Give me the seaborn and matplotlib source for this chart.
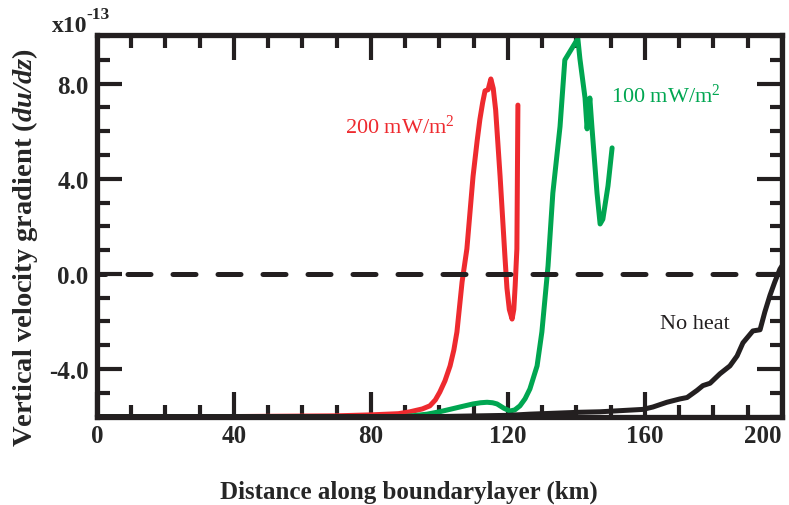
import numpy as np
import pandas as pd
import seaborn as sns
import matplotlib.pyplot as plt
from matplotlib.ticker import MultipleLocator, FixedFormatter, FixedLocator

# distance (km) and du/dz (x1e-13)
x_200 = [0, 40, 70, 80, 88, 91.4, 95, 97.2, 98.8, 100.1, 101.6, 103.1, 104.2, 105.1, 106.6, 108, 109.8,
         111, 111.8, 112.6, 113.3, 114.2, 115, 115.7, 116.4, 117.7, 119.1, 119.7, 120.4, 121.2, 121.7,
         122.1, 122.6, 122.9]
y_200 = [-6.0, -6.0, -5.97, -5.93, -5.88, -5.8, -5.68, -5.55, -5.3, -4.97, -4.5, -3.87, -3.2, -2.44, -0.34,
         1.05, 4.1, 5.6, 6.5, 7.2, 7.7, 7.75, 8.2, 7.8, 6.9, 4.1, 0.76, -0.6, -1.5, -1.9, -1.5, -0.5,
         1.05, 7.1]

x_100 = [0, 90, 96.4, 100, 103, 106.5, 109.8, 112, 113.9, 115.5, 116.8, 118.8, 120.6, 122, 123.5, 125,
         126.4, 128.5, 129.9, 130.8, 131.7, 133.1, 135.2, 136.6, 140.4, 141, 142.5, 143.1, 143.9, 144.5,
         146, 146.9, 147.7, 149.2, 150.4]
y_100 = [-6.0, -6.0, -5.9, -5.8, -5.7, -5.58, -5.47, -5.42, -5.4, -5.42, -5.47, -5.65, -5.77, -5.72, -5.55,
         -5.25, -4.84, -3.87, -2.44, -1.05, 0.34, 3.4, 6.2, 9.0, 9.9, 9.05, 7.4, 6.1, 7.4, 6.2,
         3.4, 2.1, 2.3, 3.7, 5.3]

x_noheat = [0, 100, 120, 126.4, 141, 146.9, 159.4, 162.3, 166.4, 170.2, 172.3, 175.2, 176.9, 179, 181.9,
            184.8, 186.9, 188.6, 191.5, 193.6, 195, 196.5, 197.9, 199.4, 200.5]
y_noheat = [-6.0, -6.0, -5.95, -5.9, -5.82, -5.8, -5.7, -5.6, -5.4, -5.26, -5.2, -4.9, -4.7, -4.6, -4.2,
            -3.87, -3.45, -2.9, -2.4, -2.35, -1.6, -0.9, -0.34, 0.2, 0.45]

red = "#ee2a2f"
green = "#00a651"
black = "#231f20"

sns.set_style("ticks")
plt.rcParams["font.family"] = ["Liberation Serif", "DejaVu Serif"]
plt.rcParams["mathtext.fontset"] = "custom"
plt.rcParams["mathtext.rm"] = "Liberation Serif"
plt.rcParams["mathtext.it"] = "Liberation Serif:italic"
plt.rcParams["mathtext.bf"] = "Liberation Serif:bold"
plt.rcParams["mathtext.bfit"] = "Liberation Serif:bold:italic"

fig = plt.figure(figsize=(7.89, 5.06), dpi=100)
ax = fig.add_axes([0.1229, 0.1739, 0.8682, 0.755])

lw = 3.6
for xs, ys, c in [(x_200, y_200, red), (x_100, y_100, green), (x_noheat, y_noheat, black)]:
    sns.lineplot(x=xs, y=ys, ax=ax, color=c, lw=lw, sort=False, estimator=None,
                 solid_capstyle="round", solid_joinstyle="round")
ax.axhline(0, color=black, lw=3.6, linestyle=(2.9, (4.6, 4.4)), dash_capstyle="round")

ax.set_xlim(0, 200)
ax.set_ylim(-6.02, 10.05)

ax.xaxis.set_major_locator(FixedLocator([0, 40, 80, 120, 160, 200]))
ax.xaxis.set_minor_locator(MultipleLocator(10))
ax.yaxis.set_major_locator(FixedLocator([-4, 0, 4, 8]))
ax.yaxis.set_major_formatter(FixedFormatter(["-4.0", "0.0", "4.0", "8.0"]))
ax.yaxis.set_minor_locator(MultipleLocator(1))

ax.tick_params(which="both", direction="in", top=True, right=True, color=black, width=3)
ax.tick_params(which="major", length=18)
ax.tick_params(which="minor", length=9)
ax.tick_params(axis="x", which="major", pad=5, labelsize=18)
ax.tick_params(axis="y", which="major", pad=6, labelsize=18)
for lab in ax.get_xticklabels() + ax.get_yticklabels():
    lab.set_fontweight("bold")
ax.get_xticklabels()[-1].set_horizontalalignment("right")

for s in ax.spines.values():
    s.set_linewidth(3.8)
    s.set_color(black)
    s.set_visible(True)

ax.set_xlabel("")
ax.set_ylabel("")
fig.text(0.518, 0.027, "Distance along boundarylayer (km)", ha="center", va="center",
         fontsize=18, fontweight="bold")
fig.text(0.032, 0.511, r"Vertical velocity gradient ($\mathbfit{du/dz}$)", ha="center", va="center",
         rotation=90, fontsize=20.5, fontweight="bold")
fig.text(52 / 789, 1 - 32 / 506, "x10", ha="left", va="baseline", fontsize=17, fontweight="bold")
fig.text(86.5 / 789, 1 - 19 / 506, "-13", ha="left", va="baseline", fontsize=12.5, fontweight="bold")

ax.text(88.5, 6.2, r"200 mW/m$^2$", color=red, fontsize=16, ha="center", va="center")
ax.text(166, 7.5, r"100 mW/m$^2$", color=green, fontsize=16, ha="center", va="center")
ax.text(174.6, -2.1, "No heat", color=black, fontsize=16, ha="center", va="center")

fig.savefig("out.png", dpi=100)
